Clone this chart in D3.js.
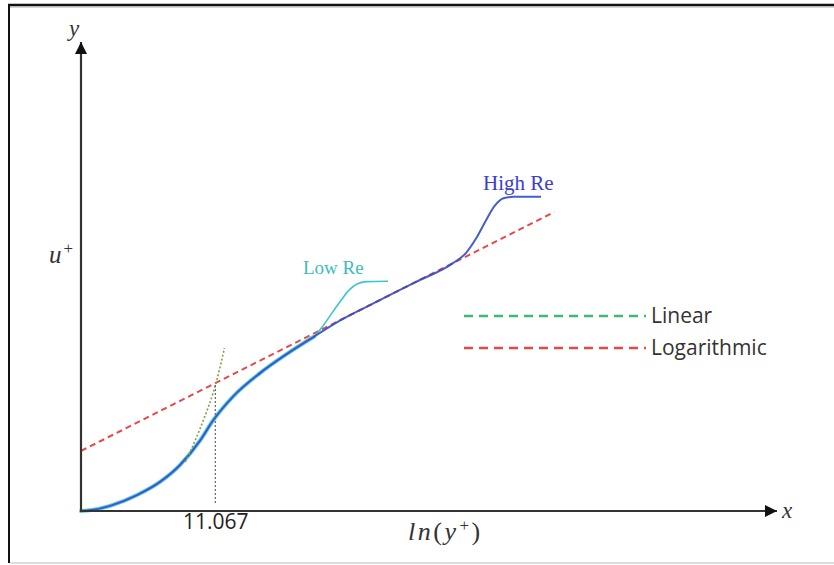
<!DOCTYPE html>
<html>
<head>
<meta charset="utf-8">
<script src="https://cdn.jsdelivr.net/npm/d3@7"></script>
<style>
  body { margin: 0; background: #fff; }
  svg { display: block; }
</style>
</head>
<body>
<div class="chart_area"></div>
<script>
// curve data (abstract units, x = ln(y+), y = u+)
var mainX = [0, 1.5, 4.17, 8.05, 11.35, 14.22, 17.1, 18.97, 21.84, 25.72, 29.6, 33.5];
var mainY = [0, 0.2, 1.1, 3.4, 6.2, 9.8, 15.0, 19.3, 24.4, 29.4, 33.5, 37.2];

var lowTailX = [34.63, 35.78, 37.21, 38.51, 39.66, 40.95, 44.11];
var lowTailY = [39.2, 41.6, 44.6, 47.1, 48.4, 48.9, 49.0];

var highTailX = [37.5, 42, 48, 53.5, 55.3, 56.8, 58.2, 59.4, 60.7, 62.1, 66.1];
var highTailY = [40.85, 44.26, 48.75, 52.9, 55.0, 58.2, 62.0, 65.0, 66.7, 67.0, 67.0];

var logLineX = [0, 68];
var logLineY = [12.8, 63.75];

var linearX = [14.99, 16.43, 17.87, 19.02, 19.88, 20.61];
var linearY = [10.45, 15.14, 20.47, 25.37, 30.06, 34.75];

var markerX = 19.3, markerY = [1.7, 27.3];
var tickLabels = ["11.067"];
var legendNames = ["Linear", "Logarithmic"];

function zip(xs, ys) { return xs.map(function(d, i) { return [d, ys[i]]; }); }

var mainPart = zip(mainX, mainY);
var lowTail = [mainPart[mainPart.length - 1]].concat(zip(lowTailX, lowTailY));
var highRe = mainPart.concat(zip(highTailX, highTailY));

var W = 834, H = 565;
var svg = d3.select(".chart_area").append("svg")
    .attr("width", W)
    .attr("height", H);

var x = d3.scaleLinear().domain([0, 100]).range([81, 777]);
var y = d3.scaleLinear().domain([0, 100]).range([511, 42]);

// frame
svg.append("line").attr("x1", 9).attr("x2", 9).attr("y1", 4).attr("y2", 563)
    .attr("stroke", "#111").attr("stroke-width", 2);
svg.append("line").attr("x1", 8).attr("x2", W).attr("y1", 5).attr("y2", 5)
    .attr("stroke", "#111").attr("stroke-width", 2.5);
svg.append("line").attr("x1", 10).attr("x2", W).attr("y1", 7).attr("y2", 7)
    .attr("stroke", "#aaa").attr("stroke-width", 1);
svg.append("line").attr("x1", 10).attr("x2", W).attr("y1", 563).attr("y2", 563)
    .attr("stroke", "#bbb").attr("stroke-width", 1);

var defs = svg.append("defs");
defs.append("marker")
    .attr("id", "arrow")
    .attr("viewBox", "0 0 10 10")
    .attr("refX", 10).attr("refY", 5)
    .attr("markerWidth", 14).attr("markerHeight", 12)
    .attr("markerUnits", "userSpaceOnUse")
    .attr("orient", "auto")
  .append("path")
    .attr("d", "M0,0 L10,5 L0,10 z")
    .attr("fill", "#111");

var line = d3.line()
    .x(function(d) { return x(d[0]); })
    .y(function(d) { return y(d[1]); })
    .curve(d3.curveMonotoneX);

var straight = d3.line()
    .x(function(d) { return x(d[0]); })
    .y(function(d) { return y(d[1]); });

// logarithmic law
svg.append("path")
    .datum(zip(logLineX, logLineY))
    .attr("d", straight)
    .attr("fill", "none")
    .attr("stroke", "#e8474a")
    .attr("stroke-width", 2)
    .attr("stroke-dasharray", "6,4");

// low Re (cyan) under high Re (blue)
svg.append("path")
    .datum(mainPart)
    .attr("d", line)
    .attr("fill", "none")
    .attr("stroke", "#62cde0")
    .attr("stroke-width", 4)
    .attr("stroke-linecap", "round");

svg.append("path")
    .datum(lowTail)
    .attr("d", line)
    .attr("fill", "none")
    .attr("stroke", "#3cc6c6")
    .attr("stroke-width", 1.6);

svg.append("path")
    .datum(highRe)
    .attr("d", line)
    .attr("fill", "none")
    .attr("stroke", "#2f4fc4")
    .attr("stroke-width", 2)
    .attr("opacity", 0.9);

// linear law
svg.append("path")
    .datum(zip(linearX, linearY))
    .attr("d", line)
    .attr("fill", "none")
    .attr("stroke", "#7aa544")
    .attr("stroke-width", 1.6)
    .attr("stroke-dasharray", "2,2");

// vertical marker
svg.append("line")
    .attr("x1", x(markerX)).attr("x2", x(markerX))
    .attr("y1", y(markerY[0])).attr("y2", y(markerY[1]))
    .attr("stroke", "#666")
    .attr("stroke-width", 1.2)
    .attr("stroke-dasharray", "2,2");

// axes
var xAxis = svg.append("g")
    .attr("transform", "translate(0," + y(0) + ")")
    .call(d3.axisBottom(x).tickValues([markerX]).tickFormat(function(d, i) { return tickLabels[i]; })
        .tickSize(0).tickPadding(3));
xAxis.select(".domain").remove();
xAxis.selectAll("text")
    .style("font-family", "'Open Sans', sans-serif")
    .style("font-size", "21px")
    .style("fill", "#222");

svg.append("line")
    .attr("x1", x(0)).attr("x2", x(100))
    .attr("y1", y(0)).attr("y2", y(0))
    .attr("stroke", "#333").attr("stroke-width", 2.2)
    .attr("marker-end", "url(#arrow)");
svg.append("line")
    .attr("x1", x(0)).attr("x2", x(0))
    .attr("y1", y(0) + 1).attr("y2", y(100))
    .attr("stroke", "#333").attr("stroke-width", 2.2)
    .attr("marker-end", "url(#arrow)");

// math labels
function mathText(tx, ty, size, spacing, parts) {
  var t = svg.append("text")
      .attr("x", tx).attr("y", ty)
      .style("font-family", "'Liberation Serif', 'DejaVu Serif', serif")
      .style("font-style", "italic")
      .style("font-size", size + "px")
      .style("letter-spacing", spacing + "px")
      .style("fill", "#333");
  parts.forEach(function(p) {
    var s = t.append("tspan").text(p.t);
    if (p.sup) s.attr("dy", -9).attr("dx", 1).style("font-size", "17px").style("font-style", "normal");
    if (p.down) s.attr("dy", 9).style("font-style", "normal");
    if (p.up) s.style("font-style", "normal");
  });
  return t;
}
mathText(69, 36, 23, 0, [{t: "y"}]);
mathText(782, 518, 23, 0, [{t: "x"}]);
mathText(49, 263, 25, 1, [{t: "u"}, {t: "+", sup: true}]);
mathText(408, 540, 26, 2.5, [{t: "ln"}, {t: "(", up: true}, {t: "y"}, {t: "+", sup: true}, {t: ")", down: true}]);

// curve labels
svg.append("text").attr("x", 483).attr("y", 190).text("High Re")
    .style("font-family", "'Liberation Serif', serif").style("font-size", "21px")
    .style("fill", "#3c3cd2");
svg.append("text").attr("x", 303).attr("y", 274).text("Low Re")
    .style("font-family", "'Liberation Serif', serif").style("font-size", "19px")
    .style("fill", "#3cbcbc");

// legend
var legendColors = ["#3cb878", "#e8474a"];
var legend = svg.selectAll(".legend")
    .data(legendNames)
  .enter().append("g")
    .attr("class", "legend")
    .attr("transform", function(d, i) { return "translate(464," + (316 + i * 32) + ")"; });
legend.append("line")
    .attr("x1", 0).attr("x2", 182)
    .attr("stroke", function(d, i) { return legendColors[i]; })
    .attr("stroke-width", 2.5)
    .attr("stroke-dasharray", "9,6");
legend.append("text")
    .attr("x", 187).attr("dy", "0.35em")
    .text(function(d) { return d; })
    .style("font-family", "'Open Sans', sans-serif")
    .style("font-size", "21px")
    .style("fill", "#333");
</script>
</body>
</html>
